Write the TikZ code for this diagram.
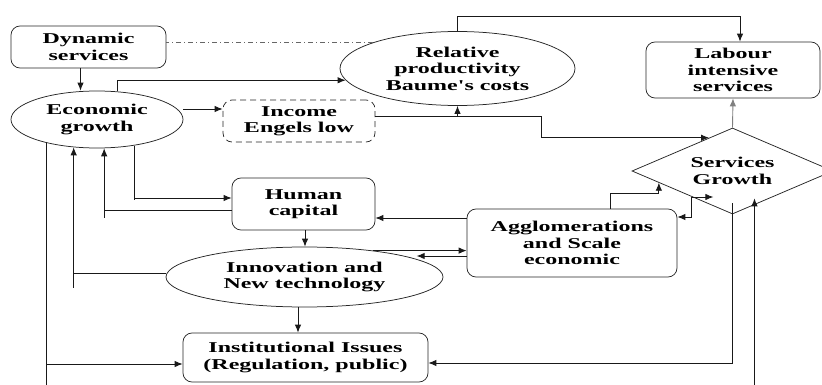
\documentclass[tikz,border=0pt]{standalone}
\usepackage{fontspec}
\newfontfamily\lblfont{Liberation Serif}[FakeStretch=1.6]
\usetikzlibrary{shapes.geometric,calc,arrows.meta}
\begin{document}
\begin{tikzpicture}[x=1pt,y=-1pt,
  lbl/.style={font=\lblfont\bfseries\fontsize{15pt}{16.5pt}\selectfont,
    align=center, inner sep=0pt, draw=black!85, line width=0.75pt},
  rbox/.style={lbl, rectangle, rounded corners=9pt},
  oval/.style={lbl, ellipse},
  diam/.style={lbl, diamond},
  link/.style={draw=black!90, line width=0.9pt},
  tip/.tip={Latex[length=8pt,width=6.5pt]},
  arr/.style={link, -tip},
  arrboth/.style={link, tip-tip},
  dd/.style={link, draw=black!60, dash pattern=on 5pt off 3pt on 1pt off 3pt},
]
\useasboundingbox (0,0) rectangle (822,385);

% ---- nodes ----
\node[rbox, minimum width=155pt, minimum height=42pt] (dyn) at (88.5,47) {Dynamic\\services};
\node[oval, minimum width=172pt, minimum height=57pt] (eg) at (97,119.5) {Economic\\growth};
\node[oval, minimum width=235pt, minimum height=74pt] (rp) at (457.5,68.5) {Relative\\productivity\\Baume's costs};
\node[rbox, minimum width=174pt, minimum height=56pt] (lab) at (733,70) {Labour\\intensive\\services};
\node[rbox, dash pattern=on 6pt off 4pt, minimum width=152pt, minimum height=42pt] (inc) at (299,121) {Income\\Engels low};
\node[diam, aspect=2.34, minimum width=201pt, minimum height=86pt] (sg) at (732.5,171) {Services\\Growth};
\node[rbox, minimum width=143pt, minimum height=52pt] (hc) at (303.5,204) {Human\\capital};
\node[oval, minimum width=277pt, minimum height=60pt] (inn) at (304.5,277) {Innovation and\\New technology};
\node[rbox, minimum width=210pt, minimum height=68pt] (agg) at (572,243) {Agglomerations\\and Scale\\economic};
\node[rbox, minimum width=245pt, minimum height=49pt] (ins) at (305.5,357.5) {Institutional Issues\\(Regulation, public)};

\coordinate (bot) at (0,392);

% ---- top row ----
\coordinate (d1) at ($(dyn.south)+(-8,0)$);
\draw[arr] (d1) -- (d1 |- eg.north);
\draw[dd] (rp.163) -- (rp.163 -| dyn.east);
\draw[arr] (eg.54) |- (rp.186);
\coordinate (l1) at ($(lab.north)+(7,0)$);
\draw[arr] (rp.north) -- ++(0,-15) -| (l1);

% ---- income effects ----
\coordinate (i1) at ($(inc.west)+(0,-12)$);
\draw[arr] (i1 -| eg.east) -- (i1);
\coordinate (i2) at ($(inc.east)+(0,-5)$);
\coordinate (s1) at ($(sg.west)!0.767!(sg.north)$);
\draw[arr] (i2) -- ($(i2)+(166,0)$) |- (s1);
\draw[arr] (i2 -| rp.south) -- (rp.south);
\draw[arr, draw=black!50] (sg.north) -- (lab.south);

% ---- feedback loops into growth ----
\coordinate (h1) at ($(hc.west)+(0,-6)$);
\draw[arr] (eg.-35) |- (h1);
\draw[link] (eg.-35 |- h1) -- ++(0,2);
\coordinate (h2) at ($(hc.west)+(0,6)$);
\draw[arr] (h2) -| (eg.-76);
\draw[link] (h2 -| eg.-76) -- ++(0,8);
\coordinate (n1) at ($(inn.west)+(0,-4)$);
\draw[arr] (n1) -| (eg.-130);
\draw[link] (n1 -| eg.-130) -- ++(0,15);

% ---- growth to institutions ----
\coordinate (g1) at ($(ins.west)+(0,6.5)$);
\draw[link] (eg.-155) -- (eg.-155 |- bot);
\draw[arr] (eg.-155 |- g1) -- (g1);

% ---- central column ----
\coordinate (h3) at ($(hc.south)+(1.5,0)$);
\draw[arr] (h3) -- (h3 |- inn.north);
\coordinate (n2) at ($(inn.south)+(-6.5,0)$);
\draw[arr] (n2) -- (n2 |- ins.north);

% ---- agglomerations ----
\coordinate (a1) at ($(agg.west)+(0,-25)$);
\draw[arr] (a1) -- (a1 -| hc.east);
\draw[arr] (inn.21) -- (inn.21 -| agg.west);
\coordinate (a3) at ($(agg.west)+(0,13)$);
\draw[arr] (a3) -- ($(a3)+(-50,0)$);
\coordinate (a4) at ($(agg.north)+(38,0)$);
\coordinate (s2) at ($(sg.west)!0.27!(sg.south)$);
\draw[arr] (a4) -- ++(0,-15) -| (s2);
\coordinate (a5) at ($(agg.east)+(0,-26)$);
\draw[arrboth] (a5) -- ++(14,0) |- ++(22,-20);

% ---- services growth and institutions ----
\coordinate (s3) at ($(sg.south)+(0,-11)$);
\coordinate (g2) at ($(ins.east)+(0,5.5)$);
\draw[arr] (s3) |- (g2);
\coordinate (s4) at ($(sg.south)+(22,-16)$);
\draw[arr] (s4 |- bot) -- (s4);
\end{tikzpicture}
\end{document}
